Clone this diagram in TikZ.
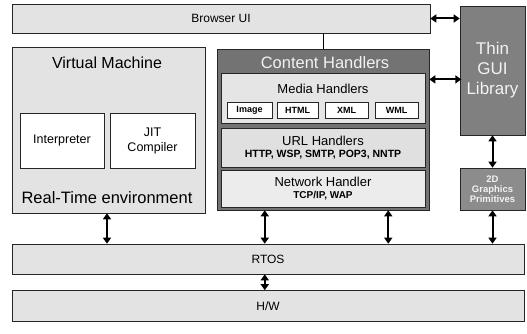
\documentclass[tikz,border=0pt]{standalone}
\usepackage{fontspec}
\setmainfont{Liberation Sans}
\usepackage{tikz}
\usetikzlibrary{arrows.meta, positioning, calc}

\newcommand{\fs}[2]{\fontsize{#1}{#2}\selectfont}

\begin{document}
\begin{tikzpicture}[
  x=1pt, y=-1pt,
  blk/.style={draw=black!85, line width=0.6pt, fill=#1, inner sep=0pt, align=center},
  lbl/.style={inner sep=0pt, align=center, font=#1},
  dbl/.style={{Triangle[length=6pt,width=8pt]}-{Triangle[length=6pt,width=8pt]}, line width=2pt},
  link/.style={line width=1pt}
]
\useasboundingbox (0,0) rectangle (527,334);

% top layer
\node[blk=gray!22, minimum width=418, minimum height=29, font=\fs{12}{14}] (browser) at (221,18.5) {Browser UI};

% virtual machine
\node[blk=gray!22, minimum width=193, minimum height=166] (vm) at (108.5,130) {};
\node[lbl=\fs{16}{18}] (vmtitle) at (107,63) {Virtual Machine};
\node[blk=white, minimum width=84, minimum height=55, font=\fs{12.5}{15}] (interp) at (62,140.5) {Interpreter};
\node[blk=white, minimum width=85, minimum height=55, font=\fs{12.5}{15}] (jit) at (152.5,140.5) {JIT\\Compiler};
\node[lbl=\fs{16.5}{18}] (rte) at (107,198) {Real-Time environment};

% content handlers
\node[blk=black!55, minimum width=212, minimum height=161] (ch) at (323,129.5) {};
\node[lbl=\fs{16.5}{18}, text=gray!10] (chtitle) at (325,63) {Content Handlers};
\node[blk=gray!20, minimum width=204, minimum height=50] (media) at (323,98) {};
\node[lbl=\fs{13}{15}] (mediatitle) at (323,89) {Media Handlers};
\node[blk=white, minimum width=45, minimum height=16, font=\fs{9}{10}\bfseries] (image) at (249.5,110.5) {Image};
\node[blk=white, minimum width=41, minimum height=16, font=\fs{9}{10}\bfseries] (html) at (297.5,110.5) {HTML};
\node[blk=white, minimum width=43, minimum height=16, font=\fs{9}{10}\bfseries] (xml) at (346.5,110.5) {XML};
\node[blk=white, minimum width=43, minimum height=16, font=\fs{9}{10}\bfseries] (wml) at (396.5,110.5) {WML};
\node[blk=gray!24, minimum width=204, minimum height=39] (url) at (323,147.5) {\fs{13}{13}URL Handlers\\\fs{10.5}{12}\bfseries HTTP, WSP, SMTP, POP3, NNTP};
\node[blk=gray!15, minimum width=204, minimum height=37] (net) at (323,188.5) {\fs{13}{13}Network Handler\\\fs{10}{12}\bfseries TCP/IP, WAP};

% graphics side
\node[blk=black!50, minimum width=65, minimum height=129, text=gray!10, font=\fs{17}{20}] (thin) at (492.5,70.5) {Thin\\GUI\\Library};
\node[blk=black!45, minimum width=65, minimum height=42, text=gray!10, font=\fs{9.5}{10}\bfseries] (prim) at (492.5,189) {2D\\Graphics\\Primitives};

% bottom layers
\node[blk=gray!22, minimum width=512, minimum height=30, font=\fs{12}{14}] (rtos) at (268,259) {RTOS};
\node[blk=gray!22, minimum width=512, minimum height=31, font=\fs{12}{14}] (hw) at (268,306) {H/W};

% connectors
\draw[link] (vm.north -| vmtitle) -- (vm.north -| vmtitle |- browser.south);
\draw[link] (ch.north) -- (ch.north |- browser.south);
\draw[dbl] (browser.east) -- (browser.east -| thin.west);
\draw[dbl] ($(ch.north east)!0.19!(ch.south east)$) -- ++(32,0);
\draw[dbl] (thin.south) -- (prim.north);
\draw[dbl] (vmtitle.center |- vm.south) -- (vmtitle.center |- rtos.north);
\draw[dbl] ($(ch.south west)!0.226!(ch.south east)$) coordinate (c1) -- (c1 |- rtos.north);
\draw[dbl] ($(ch.south west)!0.807!(ch.south east)$) coordinate (c2) -- (c2 |- rtos.north);
\draw[dbl] (prim.south) -- (prim.south |- rtos.north);
\draw[dbl] (c1 |- rtos.south) -- (c1 |- hw.north);

\end{tikzpicture}
\end{document}
